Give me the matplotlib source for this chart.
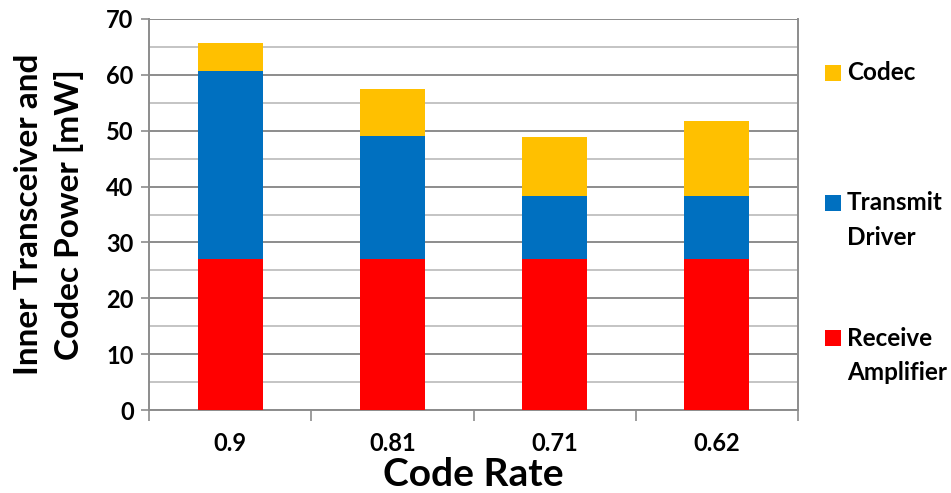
import matplotlib
matplotlib.use("Agg")
import matplotlib.pyplot as plt
from matplotlib.patches import Rectangle
from matplotlib.ticker import MultipleLocator

plt.rcParams['font.family'] = ['Lato', 'DejaVu Sans']
plt.rcParams['font.weight'] = 'bold'

# Power breakdown per code rate (mW)
code_rates = ["0.9", "0.81", "0.71", "0.62"]
receive_amplifier = [27.0, 27.0, 27.0, 27.0]
transmit_driver = [33.7, 22.0, 11.3, 11.3]
codec = [5.0, 8.4, 10.5, 13.4]

series_names = [["Receive", "Amplifier"], ["Transmit", "Driver"], ["Codec"]]
series_colors = ["#FF0000", "#0070C0", "#FFC000"]

W, H = 951, 493
fig = plt.figure(figsize=(W / 100, H / 100), dpi=100)
ax = fig.add_axes([149 / W, (H - 410) / H, (798 - 149) / W, (410 - 19) / H])

x = list(range(len(code_rates)))
bottom = [0.0] * len(x)
for vals, color in zip([receive_amplifier, transmit_driver, codec], series_colors):
    ax.bar(x, vals, width=0.4, bottom=bottom, color=color, edgecolor="none", zorder=3)
    bottom = [b + v for b, v in zip(bottom, vals)]

ax.set_xlim(-0.5, len(x) - 0.5)
ax.set_ylim(0, 70)

# gridlines: darker at every 10, lighter halfway between
ax.yaxis.set_major_locator(MultipleLocator(10))
ax.yaxis.set_minor_locator(MultipleLocator(5))
ax.grid(which="major", axis="y", color="#8c8c8c", linewidth=1.4, zorder=1)
ax.grid(which="minor", axis="y", color="#c4c4c4", linewidth=1.4, zorder=1)
ax.tick_params(axis="y", which="minor", length=0)
ax.tick_params(axis="y", which="major", length=6, width=1.2, color="#8c8c8c",
               labelsize=17, pad=5)

# category ticks sit between bars; labels centred under bars
ax.set_xticks([i - 0.5 for i in range(len(x) + 1)])
ax.set_xticklabels([])
ax.set_xticks(x, minor=True)
ax.set_xticklabels(code_rates, minor=True, fontsize=17, fontweight="bold")
ax.tick_params(axis="x", which="major", length=8, width=1.2, color="#8c8c8c")
ax.tick_params(axis="x", which="minor", length=0, pad=16)

for s in ["left", "right", "bottom"]:
    ax.spines[s].set_color("#8c8c8c")
    ax.spines[s].set_linewidth(1.4)
ax.spines["top"].set_visible(False)

for lbl in ax.get_yticklabels():
    lbl.set_fontweight("bold")

ax.set_xlabel("Code Rate", fontsize=28, fontweight="bold")
ax.xaxis.label.set_va("baseline")
ax.xaxis.set_label_coords(0.5, -(486 - 410) / (410 - 19))

fig.text(49 / W, 0.5 * ((H - 410) + (H - 19)) / H, "Inner Transceiver and\nCodec Power [mW]",
         rotation=90, ha="center", va="center", fontsize=24, fontweight="bold",
         linespacing=1.45)

# legend, top entry first
legend_y = [73, 203, 338]
for lines, color, yy in zip(series_names[::-1], series_colors[::-1], legend_y):
    fig.patches.append(Rectangle((825 / W, (H - yy - 8) / H), 16 / W, 16 / H,
                                 transform=fig.transFigure, facecolor=color,
                                 edgecolor="none"))
    for k, line in enumerate(lines):
        fig.text(847 / W, (H - yy - 35 * k) / H, line, ha="left", va="center",
                 fontsize=17.5, fontweight="bold", transform=fig.transFigure)

fig.savefig("out.png", dpi=100)
